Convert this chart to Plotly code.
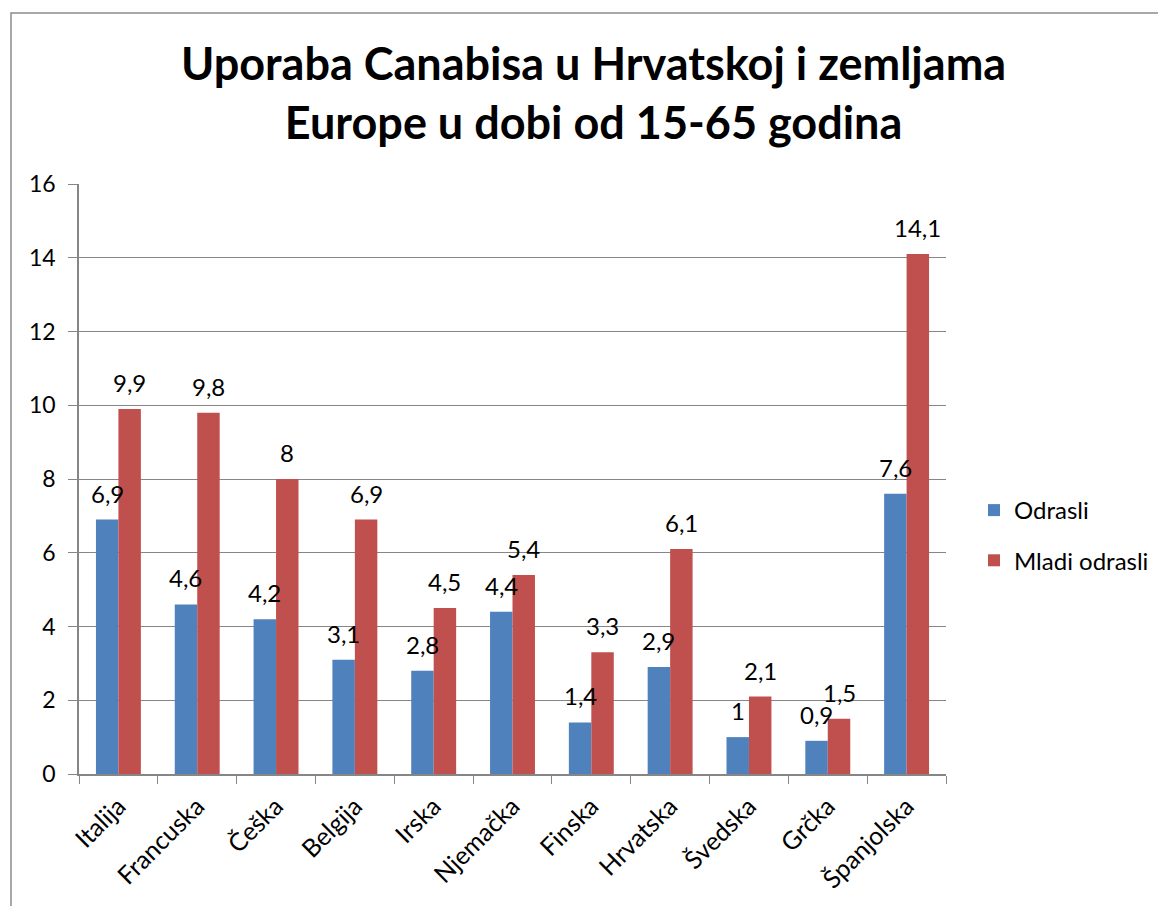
import plotly.graph_objects as go

categories = ["Italija", "Francuska", "Češka", "Belgija", "Irska", "Njemačka",
              "Finska", "Hrvatska", "Švedska", "Grčka", "Španjolska"]
odrasli = [6.9, 4.6, 4.2, 3.1, 2.8, 4.4, 1.4, 2.9, 1.0, 0.9, 7.6]
mladi_odrasli = [9.9, 9.8, 8.0, 6.9, 4.5, 5.4, 3.3, 6.1, 2.1, 1.5, 14.1]
y_ticks = [0, 2, 4, 6, 8, 10, 12, 14, 16]

FONT = "Lato"
W, H = 1158, 898          # page body has an 8px margin
L, T = 71, 176
PW, PH = 867, 590

def lab(v):
    return ("%g" % v).replace(".", ",")

fig = go.Figure()
fig.add_trace(go.Bar(x=categories, y=odrasli, name="Odrasli", legendgroup="a",
                     marker=dict(color="#4F81BD", line=dict(width=0))))
fig.add_trace(go.Bar(x=categories, y=mladi_odrasli, name="Mladi odrasli", legendgroup="b",
                     marker=dict(color="#C0504D", line=dict(width=0))))

annotations = []
half = 11.3
for vals, sh in ((odrasli, -half), (mladi_odrasli, half)):
    for c, v in zip(categories, vals):
        annotations.append(dict(x=c, y=v, xref="x", yref="y", text=lab(v),
                                showarrow=False, xshift=sh, yshift=10,
                                yanchor="bottom", xanchor="center",
                                font=dict(size=24, family=FONT, color="#000000")))

annotations.append(dict(
    xref="paper", yref="paper", x=(585 - L) / PW, y=1 + (T - 85) / PH,
    xanchor="center", yanchor="middle", showarrow=False, align="center",
    text="<b>Uporaba Canabisa u Hrvatskoj i zemljama<br>Europe u dobi od 15-65 godina</b>",
    font=dict(size=45, family=FONT, color="#000000")))

fig.update_layout(
    width=W, height=H,
    margin=dict(l=L, r=W - L - PW, t=T, b=H - T - PH),
    paper_bgcolor="white", plot_bgcolor="white",
    font=dict(family=FONT, size=24, color="#000000"),
    barmode="group", bargap=0.43, bargroupgap=0,
    showlegend=True,
    legend=dict(
        xref="container", yref="container",
        x=966 / W, xanchor="left", y=1 - 480 / H, yanchor="top",
        font=dict(size=24, family=FONT), tracegroupgap=16,
        traceorder="grouped", itemwidth=30,
    ),
    xaxis=dict(
        type="category", showgrid=False, showline=True, linecolor="#868686",
        linewidth=1.5, ticks="outside", tickson="boundaries", ticklen=8,
        tickcolor="#868686", tickangle=-45, tickfont=dict(size=25),
        ticklabelstandoff=6,
    ),
    yaxis=dict(
        range=[0, 16], tickvals=y_ticks, showgrid=True, gridcolor="#868686",
        gridwidth=1, showline=True, linecolor="#868686", linewidth=1.5,
        ticks="outside", ticklen=9, tickcolor="#868686", zeroline=False,
        tickfont=dict(size=23), ticklabelstandoff=8,
    ),
    annotations=annotations,
    shapes=[dict(type="rect", xref="paper", yref="paper",
                 x0=(3 - L) / PW, x1=1.5, y0=-0.5, y1=1 + (T - 5) / PH,
                 line=dict(color="#8c8c8c", width=1.5), layer="below")],
)

fig.write_html("out.html")
